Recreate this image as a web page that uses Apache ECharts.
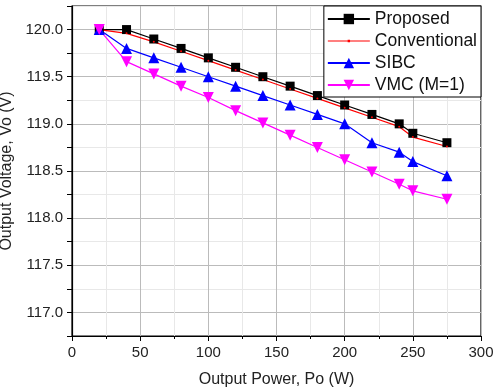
<!DOCTYPE html>
<html lang="en">
<head>
    <meta charset="UTF-8">
    <title>Output Voltage vs Output Power</title>
    <script src="https://cdn.jsdelivr.net/npm/echarts@6/dist/echarts.min.js"></script>
    <style>
        body { margin: 0; background: #fff; }
        #chart { width: 493px; height: 392px; }
    </style>
</head>
<body>
    <div id="chart"></div>
<script>
    var power = [20, 40, 60, 80, 100, 120, 140, 160, 180, 200, 220, 240, 250, 275];

    var proposed = [120.0, 120.0, 119.9, 119.8, 119.7, 119.6, 119.5, 119.4, 119.3, 119.2, 119.1, 119.0, 118.9, 118.8];
    var conventional = [120.0, 119.96, 119.87, 119.77, 119.67, 119.57, 119.47, 119.37, 119.27, 119.17, 119.07, 118.97, 118.86, 118.76];
    var sibc = [120.0, 119.8, 119.7, 119.6, 119.5, 119.4, 119.3, 119.2, 119.1, 119.0, 118.8, 118.7, 118.6, 118.45];
    var vmc = [120.0, 119.66, 119.53, 119.4, 119.28, 119.14, 119.01, 118.88, 118.75, 118.62, 118.49, 118.36, 118.29, 118.2];

    function pairs(ys) {
        return power.map(function (x, i) { return [x, ys[i]]; });
    }

    var font = 'Liberation Sans, Arial, sans-serif';
    var chart = echarts.init(document.getElementById('chart'));

    // thin line + tiny dot for the Conventional legend entry (corners keep the box size)
    var dotLine = 'path://M0,0 L0.01,0 L0,0.01 Z M42,13 L41.99,13 L42,12.99 Z ' +
        'M0,5.9 L42,5.9 L42,7.1 L0,7.1 Z M19.8,5.3 L22.2,5.3 L22.2,7.7 L19.8,7.7 Z';

    var option = {
        animation: false,
        textStyle: { fontFamily: font },
        grid: {
            left: 72, right: 12, top: 6, bottom: 56,
            outerBoundsMode: 'none',
            containLabel: false,
            show: true, borderColor: '#000', borderWidth: 1.2
        },
        legend: {
            orient: 'vertical',
            right: 12, top: 6,
            padding: [4, 4, 3, 3],
            backgroundColor: '#fff',
            borderColor: '#000',
            borderWidth: 1,
            itemWidth: 42, itemHeight: 13,
            itemGap: 4,
            textStyle: { fontSize: 17.5, color: '#111', fontFamily: font, padding: [0, 0, 0, 0] },
            data: [
                { name: 'Proposed' },
                { name: 'Conventional', icon: dotLine },
                { name: 'SIBC' },
                { name: 'VMC (M=1)' }
            ]
        },
        xAxis: {
            type: 'value',
            min: 0, max: 300, interval: 50,
            name: 'Output Power, Po (W)',
            nameLocation: 'middle',
            nameGap: 36,
            nameTextStyle: { fontSize: 16, color: '#222' },
            axisLine: { lineStyle: { color: '#000', width: 1.2 } },
            axisTick: { inside: false, length: 5, lineStyle: { color: '#000' } },
            minorTick: { show: true, splitNumber: 2, length: 3, lineStyle: { color: '#000' } },
            axisLabel: { fontSize: 15, color: '#222', margin: 9 },
            splitLine: { show: true, lineStyle: { color: '#bbb', width: 1 } },
            minorSplitLine: { show: true, lineStyle: { color: '#e8e8e8', width: 1 } }
        },
        yAxis: {
            type: 'value',
            min: 116.75, max: 120.25, interval: 0.25,
            name: 'Output Voltage, Vo (V)',
            nameLocation: 'middle',
            nameGap: 53,
            nameTextStyle: { fontSize: 16, color: '#222' },
            axisLine: { lineStyle: { color: '#000', width: 1.2 } },
            axisTick: { length: 5, lineStyle: { color: '#000' } },
            axisLabel: {
                fontSize: 15, color: '#222', margin: 9,
                formatter: function (v) {
                    return Math.abs(v * 2 - Math.round(v * 2)) < 1e-6 ? v.toFixed(1) : '';
                }
            },
            splitLine: { show: true, lineStyle: { color: ['#e8e8e8', '#bbb'], width: 1 } }
        },
        series: [
            {
                name: 'Proposed', type: 'line', data: pairs(proposed),
                symbol: 'rect', symbolSize: 9,
                itemStyle: { color: '#000' },
                lineStyle: { width: 1.2, color: '#000' }
            },
            {
                name: 'Conventional', type: 'line', data: pairs(conventional),
                symbol: 'circle', symbolSize: 2,
                itemStyle: { color: '#ff0000' },
                lineStyle: { width: 1.2, color: '#ff0000' }
            },
            {
                name: 'SIBC', type: 'line', data: pairs(sibc),
                symbol: 'triangle', symbolSize: 11,
                itemStyle: { color: '#0000ff' },
                lineStyle: { width: 1.2, color: '#0000ff' }
            },
            {
                name: 'VMC (M=1)', type: 'line', data: pairs(vmc),
                symbol: 'triangle', symbolRotate: 180, symbolSize: 11,
                itemStyle: { color: '#ff00ff' },
                lineStyle: { width: 1.2, color: '#ff00ff' }
            }
        ]
    };

    chart.setOption(option);
</script>
</body>
</html>
